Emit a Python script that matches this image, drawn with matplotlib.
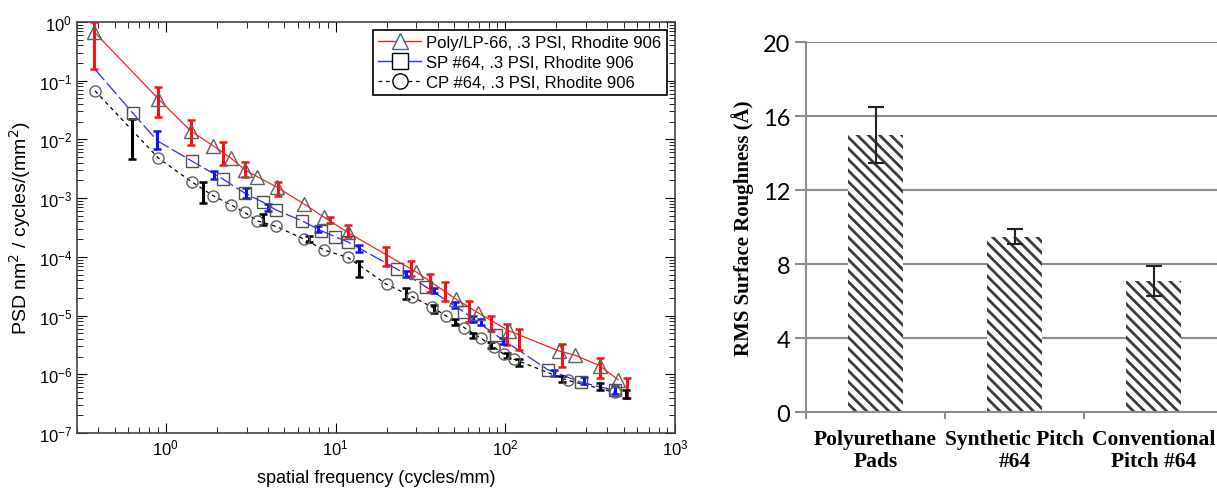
"""PSD curves of polished surfaces and RMS roughness by polishing lap."""

import matplotlib

matplotlib.use("Agg")
import matplotlib.pyplot as plt
import numpy as np
from matplotlib.lines import Line2D
from matplotlib.ticker import NullFormatter

# --- PSD data (left panel) -------------------------------------------------
poly_x = [0.38, 0.905, 1.40, 1.90, 2.42, 2.94, 3.47, 4.5, 6.55, 8.6, 11.8,
          30, 51.4, 69, 105, 207, 259, 360, 462]
poly_y = [0.67, 0.049, 0.014, 0.0078, 0.0048, 0.0030, 0.0023, 0.00155, 7.9e-4,
          4.7e-4, 2.6e-4, 5.5e-5, 1.9e-5, 1.12e-5, 5.5e-6, 2.5e-6, 2.1e-6,
          1.4e-6, 8.1e-7]
poly_err_x = [0.38, 0.9, 1.4, 2.16, 2.92, 4.6, 9.3, 11.8, 19.9, 27.9, 36, 44,
              61, 82, 102, 121, 216, 360, 525]
poly_err_lo = [0.158, 0.024, 0.0081, 0.0037, 0.0023, 0.0011, 3.7e-4, 2.2e-4,
               7.0e-5, 4.7e-5, 2.5e-5, 1.8e-5, 7.8e-6, 5.5e-6, 3.1e-6, 2.6e-6,
               1.35e-6, 8.7e-7, 4.0e-7]
poly_err_hi = [1.0, 0.077, 0.021, 0.0089, 0.0041, 0.0019, 4.7e-4, 3.5e-4,
               1.5e-4, 8.5e-5, 5.2e-5, 3.7e-5, 1.8e-5, 9.9e-6, 7.2e-6, 5.9e-6,
               3.3e-6, 1.9e-6, 8.7e-7]

sp_curve_x = [0.38, 0.64, 0.89, 1.42, 2.18, 2.94, 3.75, 4.46, 6.35, 8.2, 9.97,
              11.8, 23, 34, 57.5, 88.7, 178, 280, 444]
sp_curve_y = [0.16, 0.028, 0.0095, 0.0043, 0.0021, 0.0012, 8.5e-4, 6.3e-4,
              4.1e-4, 2.8e-4, 2.2e-4, 1.8e-4, 6.2e-5, 3.1e-5, 1.13e-5, 4.6e-6,
              1.2e-6, 7.3e-7, 5.3e-7]
sp_x = [0.64, 1.42, 2.18, 2.94, 3.75, 4.46, 6.35, 8.2, 9.97, 11.8, 23, 34,
        57.5, 88.7, 178, 280, 444]
sp_y = [0.028, 0.0043, 0.0021, 0.0012, 8.5e-4, 6.3e-4, 4.1e-4, 2.8e-4, 2.2e-4,
        1.8e-4, 6.2e-5, 3.1e-5, 1.13e-5, 4.6e-6, 1.2e-6, 7.3e-7, 5.3e-7]
sp_err_x = [0.89, 1.93, 2.97, 3.98, 7.85, 13.8, 26, 38, 50.6, 65, 72, 97, 195,
            290, 444]
sp_err_lo = [0.0069, 0.0021, 0.0010, 6.0e-4, 2.6e-4, 1.2e-4, 4.5e-5, 2.4e-5,
             1.35e-5, 7.9e-6, 7.0e-6, 3.3e-6, 9.5e-7, 6.8e-7, 4.6e-7]
sp_err_hi = [0.014, 0.0029, 0.0015, 7.9e-4, 3.4e-4, 1.6e-4, 5.8e-5, 3.0e-5,
             1.7e-5, 9.9e-6, 8.8e-6, 4.2e-6, 1.2e-6, 9.1e-7, 6.2e-7]

cp_x = [0.383, 0.905, 1.42, 1.90, 2.42, 2.92, 3.47, 4.46, 6.55, 8.6, 11.8, 20,
        28.3, 36.9, 45, 57.5, 72, 86, 98, 113, 233, 444]
cp_y = [0.067, 0.0048, 0.0019, 0.0011, 7.7e-4, 5.7e-4, 4.1e-4, 3.3e-4, 2.0e-4,
        1.3e-4, 9.8e-5, 3.4e-5, 2.1e-5, 1.4e-5, 9.8e-6, 6.2e-6, 4.1e-6,
        2.9e-6, 2.2e-6, 1.8e-6, 7.9e-7, 4.9e-7]
cp_err_x = [0.63, 1.65, 3.72, 6.95, 13.7, 26, 38, 50.6, 65, 82, 102, 121, 216,
            360, 516]
cp_err_lo = [0.0047, 8.2e-4, 3.5e-4, 1.8e-4, 4.5e-5, 1.9e-5, 1.1e-5, 6.9e-6,
             4.1e-6, 2.8e-6, 1.9e-6, 1.4e-6, 7.3e-7, 5.4e-7, 4.0e-7]
cp_err_hi = [0.022, 0.0019, 5.3e-4, 2.3e-4, 8.6e-5, 3.0e-5, 1.5e-5, 8.7e-6,
             5.0e-6, 3.5e-6, 2.3e-6, 1.8e-6, 9.5e-7, 7.2e-7, 5.4e-7]

legend_labels = ["Poly/LP-66, .3 PSI, Rhodite 906",
                 "SP #64, .3 PSI, Rhodite 906",
                 "CP #64, .3 PSI, Rhodite 906"]

# --- RMS roughness (right panel) --------------------------------------------
categories = ["Polyurethane\nPads", "Synthetic Pitch\n#64", "Conventional\nPitch #64"]
rms = [15.0, 9.5, 7.1]
rms_err = [1.5, 0.4, 0.8]

plt.rcParams["font.family"] = ["Liberation Sans", "DejaVu Sans"]
plt.rcParams["hatch.linewidth"] = 2.0

fig = plt.figure(figsize=(12.17, 4.89), dpi=100)


def draw_errs(ax, x, lo, hi, color):
    lo = np.asarray(lo)
    hi = np.asarray(hi)
    mid = np.sqrt(lo * hi)
    ax.errorbar(x, mid, yerr=[mid - lo, hi - mid], fmt="none", ecolor=color,
                elinewidth=2.2, capsize=3, capthick=1.8, zorder=4)


ax = fig.add_axes([0.0633, 0.1125, 0.4913, 0.8405])
ax.plot(poly_x, poly_y, color="#ff2020", lw=0.9, zorder=2)
ax.plot(sp_curve_x, sp_curve_y, color="#2a2aff", lw=0.9, ls=(0, (12, 3)), zorder=2)
ax.plot(cp_x, cp_y, color="black", lw=0.9, ls=(0, (3, 3)), zorder=2)
draw_errs(ax, poly_err_x, poly_err_lo, poly_err_hi, "#ff1010")
draw_errs(ax, sp_err_x, sp_err_lo, sp_err_hi, "#1010ff")
draw_errs(ax, cp_err_x, cp_err_lo, cp_err_hi, "black")
ax.plot(poly_x, poly_y, ls="none", marker="^", ms=10, mfc="none", mec="#606060",
        mew=1.0, zorder=5)
ax.plot(sp_x, sp_y, ls="none", marker="s", ms=9, mfc="none", mec="#505050",
        mew=1.0, zorder=5)
ax.plot(cp_x, cp_y, ls="none", marker="o", ms=8, mfc="none", mec="#606060",
        mew=1.0, zorder=5)

ax.set_xscale("log")
ax.set_yscale("log")
ax.set_xlim(0.3, 1000)
ax.set_ylim(1e-7, 1)
ax.xaxis.set_minor_formatter(NullFormatter())
ax.yaxis.set_minor_formatter(NullFormatter())
ax.tick_params(which="both", direction="in", top=True, right=True, labelsize=12)
ax.tick_params(which="major", length=7)
ax.tick_params(which="minor", length=4)
for s in ax.spines.values():
    s.set_color("#444444")
    s.set_linewidth(1.2)
ax.set_xlabel("spatial frequency (cycles/mm)", fontsize=13, labelpad=8)
ax.set_ylabel("PSD nm$^2$ / cycles/(mm$^2$)", fontsize=14, labelpad=4)

handles = [
    Line2D([], [], color="#ff2020", lw=1.0, marker="^", ms=12, mfc="white",
           mec="#4a6080"),
    Line2D([], [], color="#2a2aff", lw=1.0, marker="s", ms=12, mfc="white",
           mec="black"),
    Line2D([], [], color="black", lw=0.9, ls=(0, (3, 3)), marker="o", ms=11,
           mfc="white", mec="black"),
]
leg = ax.legend(handles, legend_labels, loc="upper right", fontsize=12,
                fancybox=False, framealpha=1, edgecolor="black",
                handlelength=2.6, borderpad=0.3, labelspacing=0.3,
                handletextpad=0.3)
leg.get_frame().set_linewidth(1.2)

# --- bar chart ---------------------------------------------------------------
ax2 = fig.add_axes([0.6623, 0.1548, 0.3427, 0.7566])
pos = np.arange(len(categories))
ax2.bar(pos, rms, width=0.4, color="white", edgecolor="#3c3c3c", linewidth=0,
        hatch="\\\\\\", zorder=2)
ax2.errorbar(pos, rms, yerr=rms_err, fmt="none", ecolor="#222222",
             elinewidth=1.5, capsize=6, capthick=1.5, zorder=3)
ax2.set_xlim(-0.5, 2.5)
ax2.set_ylim(0, 20)
ax2.set_yticks([0, 4, 8, 12, 16, 20])
ax2.yaxis.grid(True, color="#8c8c8c", lw=1.5)
ax2.set_axisbelow(True)
ax2.set_xticks([-0.5, 0.5, 1.5], minor=False)
ax2.set_xticklabels([])
ax2.set_xticks(pos, minor=True)
ax2.set_xticklabels(categories, minor=True, fontfamily="Liberation Serif",
                    fontweight="bold", fontsize=15.5, linespacing=1.15)
ax2.tick_params(axis="x", which="minor", length=0, pad=12)
ax2.tick_params(axis="x", which="major", length=5, color="#8c8c8c", width=1.5)
ax2.tick_params(axis="y", length=8, color="#8c8c8c", width=1.5, labelsize=17)
for lab in ax2.get_yticklabels():
    lab.set_fontfamily("Lato")
for side in ("top", "right"):
    ax2.spines[side].set_visible(False)
for side in ("left", "bottom"):
    ax2.spines[side].set_color("#8c8c8c")
    ax2.spines[side].set_linewidth(1.5)
ax2.set_ylabel("RMS Surface Roughness (Å)", fontfamily="Liberation Serif",
               fontweight="bold", fontsize=15, labelpad=6)

fig.savefig("out.png", dpi=100)
